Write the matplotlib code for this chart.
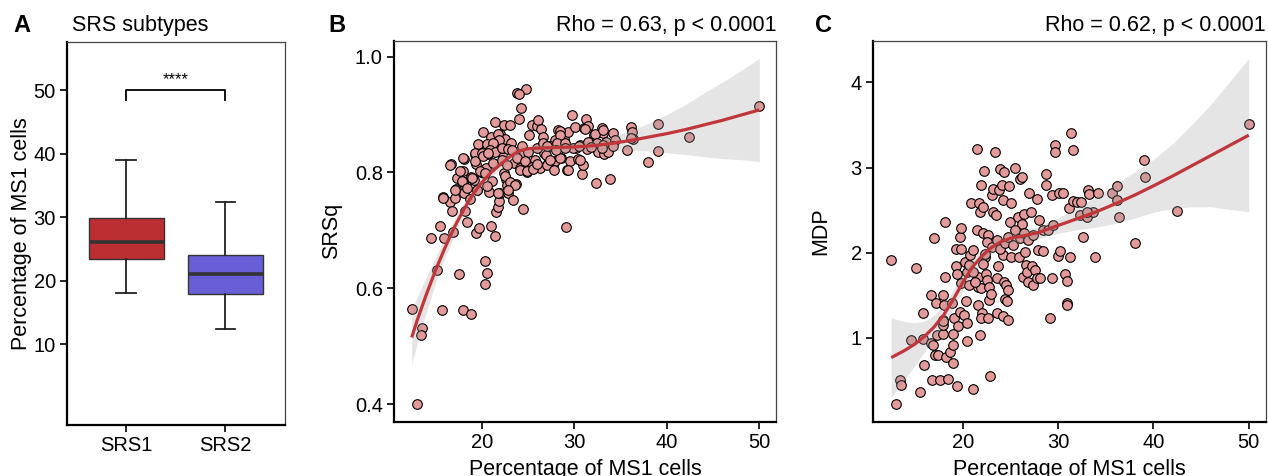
import numpy as np
import matplotlib
matplotlib.use("Agg")
import matplotlib.pyplot as plt

plt.rcParams['font.family'] = ['Liberation Sans', 'DejaVu Sans']

# ---- panel A: box statistics ----
groups = ["SRS1", "SRS2"]
box_colors = ["#BB2F33", "#6A5ED6"]
q1 = [23.4, 17.8]
med = [26.0, 21.0]
q3 = [29.9, 24.0]
whislo = [18.0, 12.4]
whishi = [39.0, 32.4]

# ---- panel B: SRSq vs % MS1 cells ----
b_x = [12.39, 12.93, 13.47, 13.36, 15.71, 17.91, 18.85, 17.55, 15.10, 20.36,
       20.58, 20.36, 14.52, 15.46, 15.89, 16.86, 18.41, 19.31, 19.71, 21.01,
       21.41, 29.09, 15.74, 16.54, 16.75, 17.04, 17.19, 17.26, 16.61, 17.94,
       17.98, 18.09, 18.05, 18.20, 18.67, 18.85, 19.13, 19.31, 19.28, 19.50,
       19.71, 19.89, 20.14, 20.22, 20.40, 20.50, 20.69, 20.79, 20.97, 21.12,
       21.41, 21.48, 21.69, 21.84, 21.88, 21.95, 21.98, 22.13, 22.24, 22.38,
       22.42, 22.52, 22.63, 22.74, 22.85, 23.03, 23.17, 23.39, 23.46, 23.64,
       23.82, 24.00, 24.11, 24.26, 24.40, 24.54, 24.76, 24.83, 25.12, 25.41,
       25.73, 25.91, 26.09, 26.27, 26.35, 26.56, 26.71, 27.18, 27.72, 27.90,
       28.26, 28.51, 28.69, 28.91, 29.23, 29.34, 29.52, 29.70, 30.06, 30.17,
       30.42, 30.85, 30.96, 31.07, 31.21, 31.32, 31.50, 31.86, 32.11, 32.33,
       32.58, 32.94, 33.13, 33.23, 33.41, 33.85, 34.21, 34.39, 35.65, 36.12,
       36.19, 36.37, 37.99, 39.00, 39.08, 42.36, 49.93, 23.95, 21.77, 21.87,
       28.47, 28.44, 31.18, 32.23, 33.13, 19.60, 20.50, 21.22, 19.24, 19.97,
       20.87, 21.41, 22.13, 22.85, 23.21, 24.30, 25.01, 25.92, 26.63, 27.36,
       28.08, 28.98, 29.88, 30.60, 31.50, 32.41, 33.13, 33.67, 16.54, 17.98,
       19.24, 20.14, 20.68, 17.62, 18.89, 19.78, 20.32, 21.22, 22.13, 22.67,
       23.76, 24.65, 25.38, 26.28, 27.00, 27.90, 28.44, 29.34, 30.60, 22.49,
       23.03, 23.57, 24.11, 24.84, 15.81, 17.08, 17.80, 18.34, 19.43, 20.50,
       21.77, 22.85, 25.50, 26.00, 26.90, 27.40, 27.80, 27.00, 28.00, 29.00,
       30.50, 31.80, 33.00, 34.20, 36.10]
b_y = [0.564, 0.400, 0.531, 0.519, 0.563, 0.562, 0.556, 0.625, 0.632, 0.647,
       0.627, 0.608, 0.686, 0.708, 0.687, 0.697, 0.714, 0.695, 0.704, 0.707,
       0.690, 0.705, 0.757, 0.749, 0.734, 0.755, 0.772, 0.790, 0.814, 0.803,
       0.784, 0.823, 0.764, 0.734, 0.754, 0.792, 0.787, 0.814, 0.832, 0.769,
       0.847, 0.800, 0.870, 0.799, 0.807, 0.842, 0.832, 0.766, 0.862, 0.785,
       0.887, 0.732, 0.741, 0.851, 0.751, 0.764, 0.866, 0.832, 0.842, 0.799,
       0.882, 0.858, 0.789, 0.779, 0.765, 0.882, 0.850, 0.753, 0.816, 0.780,
       0.937, 0.892, 0.807, 0.911, 0.737, 0.833, 0.944, 0.800, 0.865, 0.882,
       0.822, 0.880, 0.891, 0.810, 0.875, 0.861, 0.833, 0.816, 0.812, 0.856,
       0.874, 0.825, 0.868, 0.858, 0.805, 0.870, 0.819, 0.900, 0.878, 0.843,
       0.823, 0.798, 0.813, 0.877, 0.892, 0.841, 0.880, 0.854, 0.865, 0.782,
       0.835, 0.877, 0.868, 0.832, 0.852, 0.789, 0.868, 0.856, 0.838, 0.878,
       0.869, 0.858, 0.818, 0.884, 0.837, 0.861, 0.915, 0.935, 0.867, 0.856,
       0.872, 0.865, 0.875, 0.866, 0.874, 0.849, 0.849, 0.851, 0.833, 0.833,
       0.839, 0.836, 0.842, 0.840, 0.839, 0.845, 0.836, 0.842, 0.851, 0.845,
       0.851, 0.851, 0.842, 0.848, 0.853, 0.851, 0.848, 0.836, 0.813, 0.825,
       0.819, 0.828, 0.833, 0.803, 0.790, 0.802, 0.799, 0.816, 0.822, 0.813,
       0.825, 0.819, 0.810, 0.808, 0.813, 0.819, 0.825, 0.805, 0.822, 0.793,
       0.784, 0.779, 0.805, 0.802, 0.756, 0.770, 0.785, 0.773, 0.770, 0.776,
       0.764, 0.770, 0.806, 0.815, 0.830, 0.822, 0.805, 0.845, 0.838, 0.843,
       0.846, 0.844, 0.842, 0.845, 0.860]
# loess fit and its band
b_fit_x = [12.4, 13, 14, 15, 16, 17, 18, 19, 20, 21, 22, 23, 24, 25, 26, 28,
           30, 32, 34, 36, 38, 40, 42, 44, 46, 48, 50]
b_fit_y = [0.515, 0.545, 0.59, 0.632, 0.67, 0.705, 0.735, 0.762, 0.783, 0.80,
           0.814, 0.827, 0.837, 0.841, 0.842, 0.843, 0.844, 0.846, 0.85, 0.855,
           0.861, 0.867, 0.874, 0.882, 0.89, 0.899, 0.908]
b_band = [0.047, 0.04, 0.03, 0.022, 0.017, 0.014, 0.012, 0.011, 0.01, 0.009,
          0.008, 0.008, 0.007, 0.007, 0.006, 0.006, 0.007, 0.008, 0.012, 0.017,
          0.024, 0.033, 0.043, 0.055, 0.066, 0.077, 0.089]

# ---- panel C: MDP vs % MS1 cells ----
c_x = [12.45, 12.97, 13.43, 13.53, 14.55, 15.10, 15.52, 15.80, 15.87, 15.94,
       16.68, 16.82, 16.64, 16.92, 17.03, 17.10, 17.20, 17.27, 17.45, 17.62,
       17.90, 17.97, 17.97, 17.90, 18.08, 18.15, 18.18, 18.22, 18.50, 18.67,
       18.95, 18.95, 18.85, 19.13, 19.30, 19.37, 19.30, 19.44, 19.55, 19.72,
       19.79, 19.72, 19.79, 19.83, 20.17, 20.24, 20.35, 20.42, 20.42, 20.49,
       20.63, 20.70, 20.77, 20.87, 21.05, 21.05, 21.47, 21.47, 21.57, 21.64,
       21.57, 21.75, 21.82, 21.89, 21.82, 21.89, 21.99, 21.92, 22.10, 22.17,
       22.27, 22.34, 22.45, 22.52, 22.62, 22.69, 22.80, 22.80, 22.87, 22.97,
       23.04, 23.15, 23.22, 23.39, 23.50, 23.57, 23.64, 23.74, 23.85, 23.92,
       24.09, 24.20, 24.20, 24.27, 24.34, 24.37, 24.44, 24.55, 24.62, 24.72,
       24.79, 24.90, 24.97, 25.03, 25.07, 25.52, 25.84, 25.94, 26.01, 26.19,
       26.19, 26.29, 26.43, 26.54, 26.64, 26.78, 26.89, 27.00, 27.13, 27.24,
       27.41, 27.59, 27.76, 27.83, 27.94, 28.04, 28.11, 28.39, 28.74, 28.74,
       29.16, 29.34, 29.34, 29.72, 29.72, 30.03, 30.14, 30.21, 30.56, 30.73,
       30.91, 30.91, 30.98, 31.19, 31.26, 31.33, 31.54, 31.54, 31.96, 32.31,
       32.41, 32.66, 33.08, 33.18, 33.29, 33.64, 33.88, 34.23, 35.63, 36.15,
       36.22, 36.43, 38.08, 39.06, 39.13, 42.45, 50.00, 22.52, 23.04, 23.57,
       23.92, 24.44, 24.79, 25.31, 25.49, 26.01, 26.43, 26.89, 27.41, 28.46,
       28.98, 29.51, 22.10, 22.34, 21.12, 21.29, 18.95, 17.90, 33.01]
c_y = [1.92, 0.22, 0.51, 0.45, 0.98, 1.82, 0.37, 1.29, 0.99, 0.68,
       1.50, 0.51, 0.94, 0.92, 2.17, 0.80, 1.41, 1.03, 0.80, 0.51,
       1.21, 1.50, 1.05, 1.15, 1.39, 1.72, 2.36, 0.78, 0.52, 0.84,
       0.92, 0.71, 1.41, 1.23, 1.84, 1.75, 2.04, 0.44, 1.14, 1.31,
       2.04, 2.19, 2.29, 1.64, 1.27, 1.89, 1.43, 1.18, 0.97, 1.77,
       1.62, 1.86, 1.97, 2.58, 2.03, 0.40, 2.27, 3.22, 1.72, 1.60,
       1.39, 2.58, 1.04, 2.79, 2.48, 1.59, 1.29, 1.23, 2.23, 2.54,
       2.96, 1.95, 1.75, 1.68, 2.21, 1.23, 1.44, 1.60, 0.55, 1.52,
       2.68, 2.48, 2.75, 3.18, 2.44, 1.29, 1.70, 1.84, 2.74, 2.98,
       2.79, 2.62, 1.26, 1.97, 2.95, 1.66, 1.46, 1.62, 1.43, 1.56,
       1.21, 2.78, 2.36, 2.58, 1.95, 3.00, 2.42, 1.95, 2.87, 2.89,
       2.34, 1.72, 2.46, 2.01, 1.86, 1.78, 1.66, 2.70, 2.48, 1.84,
       1.62, 1.80, 2.63, 1.70, 2.03, 2.38, 1.70, 2.02, 2.93, 2.79,
       1.23, 2.68, 1.70, 3.26, 3.18, 1.96, 2.70, 2.02, 2.70, 1.75,
       1.41, 1.39, 1.67, 2.53, 1.95, 3.41, 3.21, 2.61, 2.60, 2.44,
       2.59, 2.18, 2.42, 2.74, 2.69, 2.48, 1.95, 2.70, 2.70, 2.62,
       2.78, 2.42, 2.11, 3.09, 2.89, 2.49, 3.51, 2.13, 2.07, 2.15,
       2.05, 2.11, 2.19, 2.09, 2.27, 2.17, 2.23, 2.15, 2.21, 2.27,
       2.27, 2.32, 1.87, 1.99, 1.78, 1.66, 1.05, 1.20, 2.48]
c_fit_x = [12.5, 13, 14, 15, 16, 17, 18, 19, 20, 21, 22, 23, 24, 25, 26, 28,
           30, 32, 34, 36, 38, 40, 42, 44, 46, 48, 50]
c_fit_y = [0.77, 0.80, 0.86, 0.93, 1.02, 1.13, 1.27, 1.45, 1.65, 1.83, 1.96,
           2.06, 2.13, 2.17, 2.19, 2.24, 2.32, 2.40, 2.48, 2.575, 2.675, 2.785,
           2.90, 3.02, 3.14, 3.26, 3.38]
c_band = [0.47, 0.42, 0.33, 0.25, 0.18, 0.14, 0.12, 0.11, 0.10, 0.09, 0.08,
          0.075, 0.07, 0.065, 0.065, 0.07, 0.09, 0.13, 0.18, 0.23, 0.27, 0.31,
          0.38, 0.48, 0.60, 0.75, 0.90]

point_fill = "#E39A9A"
line_red = "#C0363A"


def style_axes(ax):
    # ggplot classic-ish frame: heavy left/bottom, thin top/right
    for side in ["left", "bottom"]:
        ax.spines[side].set_linewidth(1.6)
        ax.spines[side].set_color("black")
    for side in ["top", "right"]:
        ax.spines[side].set_linewidth(0.9)
        ax.spines[side].set_color("#444444")
    ax.tick_params(axis="both", direction="out", length=5, width=1.2,
                   labelsize=14.5, colors="black", pad=3)


def scatter_panel(ax, x, y, fx, fy, band):
    ax.scatter(x, y, s=48, c=point_fill, edgecolors="black", linewidths=0.8,
               zorder=2)
    fx = np.array(fx)
    fy = np.array(fy)
    band = np.array(band)
    ax.fill_between(fx, fy - band, fy + band, color="#999999", alpha=0.25,
                    linewidth=0, zorder=3)
    ax.plot(fx, fy, color=line_red, lw=2.3, zorder=4, solid_capstyle="butt")


fig = plt.figure(figsize=(12.68, 4.76), dpi=100)

# ---------------- A ----------------
axA = fig.add_axes([0.0528, 0.1071, 0.1719, 0.8046])
stats = []
for i in range(len(groups)):
    stats.append(dict(med=med[i], q1=q1[i], q3=q3[i], whislo=whislo[i],
                      whishi=whishi[i], fliers=[], label=groups[i]))
bp = axA.bxp(stats, positions=[1, 2], widths=0.76, patch_artist=True,
             showfliers=False, capwidths=0.2,
             boxprops=dict(edgecolor="#333333", linewidth=1.0),
             medianprops=dict(color="#333333", linewidth=2.6),
             whiskerprops=dict(color="#222222", linewidth=1.3),
             capprops=dict(color="#222222", linewidth=1.3))
for patch, col in zip(bp["boxes"], box_colors):
    patch.set_facecolor(col)
axA.plot([1, 1, 2, 2], [48.4, 50, 50, 48.4], color="black", lw=1.3)
axA.text(1.5, 50.5, "****", ha="center", va="bottom", fontsize=12)
axA.set_xlim(0.4, 2.6)
axA.set_ylim(-2.76, 57.56)
axA.set_yticks([10, 20, 30, 40, 50])
axA.set_xticks([1, 2])
axA.set_xticklabels(groups)
axA.set_ylabel("Percentage of MS1 cells", fontsize=15.5, labelpad=1)
style_axes(axA)

# ---------------- B ----------------
axB = fig.add_axes([0.3107, 0.1141, 0.3013, 0.7998])
scatter_panel(axB, b_x, b_y, b_fit_x, b_fit_y, b_band)
axB.set_xlim(10.48, 51.8)
axB.set_ylim(0.3695, 1.027)
axB.set_xticks([20, 30, 40, 50])
axB.set_yticks([0.4, 0.6, 0.8, 1.0])
axB.set_yticklabels(["0.4", "0.6", "0.8", "1.0"])
axB.set_xlabel("Percentage of MS1 cells", fontsize=15.5, labelpad=5)
axB.set_ylabel("SRSq", fontsize=15.5, labelpad=9)
axB.set_title("Rho = 0.63, p < 0.0001", loc="right", fontsize=15.5, pad=7)
style_axes(axB)

# ---------------- C ----------------
axC = fig.add_axes([0.6885, 0.1141, 0.3099, 0.7998])
scatter_panel(axC, c_x, c_y, c_fit_x, c_fit_y, c_band)
axC.set_xlim(10.59, 51.8)
axC.set_ylim(0.018, 4.485)
axC.set_xticks([20, 30, 40, 50])
axC.set_yticks([1, 2, 3, 4])
axC.set_xlabel("Percentage of MS1 cells", fontsize=15.5, labelpad=5)
axC.set_ylabel("MDP", fontsize=15.5, labelpad=14)
axC.set_title("Rho = 0.62, p < 0.0001", loc="right", fontsize=15.5, pad=7)
style_axes(axC)

# panel letters and subtitle
fig.text(13 / 1268, 1 - 25 / 476, "A", fontsize=17, fontweight="bold",
         va="center", ha="left")
fig.text(72 / 1268, 1 - 25 / 476, "SRS subtypes", fontsize=15.5,
         va="center", ha="left")
fig.text(328 / 1268, 1 - 25 / 476, "B", fontsize=17, fontweight="bold",
         va="center", ha="left")
fig.text(815 / 1268, 1 - 25 / 476, "C", fontsize=17, fontweight="bold",
         va="center", ha="left")

fig.savefig("out.png", dpi=100)
